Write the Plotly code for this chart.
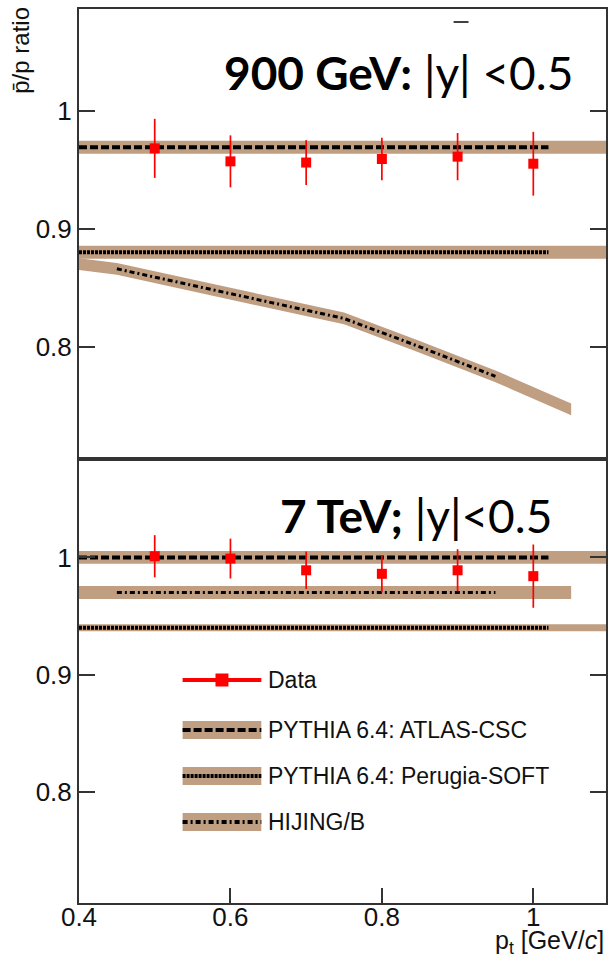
import plotly.graph_objects as go

# ---------------- data ----------------
pt = [0.5, 0.6, 0.7, 0.8, 0.9, 1.0]
ratio_900 = [0.968, 0.957, 0.956, 0.959, 0.961, 0.955]
err_900 = [0.025, 0.022, 0.019, 0.018, 0.020, 0.027]
ratio_7 = [1.001, 0.999, 0.989, 0.986, 0.989, 0.984]
err_7 = [0.018, 0.017, 0.016, 0.016, 0.018, 0.027]

# model bands (center values) and their extents
atlas_900 = 0.969
perugia_900 = 0.880
hij_900_band_x = [0.40, 0.45, 0.60, 0.75, 0.85, 0.95, 1.05]
hij_900_band_y = [0.870, 0.866, 0.845, 0.824, 0.800, 0.775, 0.747]
hij_900_line_x = [0.45, 0.60, 0.75, 0.85, 0.95]
hij_900_line_y = [0.866, 0.845, 0.824, 0.800, 0.775]

atlas_7 = 1.000
hij_7 = 0.970
perugia_7 = 0.940

band_half = 0.0055
band_half_perugia7 = 0.003
band_x_full = [0.40, 1.10]
line_x_pythia = [0.40, 1.02]
band_x_hij = [0.40, 1.05]
line_x_hij = [0.45, 0.95]

xtick_vals = [0.4, 0.6, 0.8, 1.0]
xtick_text = ["0.4", "0.6", "0.8", "1"]
ytick_vals = [0.8, 0.9, 1.0]
ytick_text = ["0.8", "0.9", "1"]

legend_labels = ["Data", "PYTHIA 6.4: ATLAS-CSC", "PYTHIA 6.4: Perugia-SOFT", "HIJING/B"]

# ---------------- style ----------------
TAN = "#BF9E82"
RED = "#FF0000"
DASH_ATLAS = "8px,3px"
DASH_PERUGIA = "3px,1px"
DASH_HIJ = "5px,3px,2px,3px"

fig = go.Figure()


def band(xs, ys, half, xa, ya):
    up = [y + half for y in ys]
    lo = [y - half for y in ys]
    fig.add_trace(go.Scatter(x=list(xs) + list(xs)[::-1], y=up + lo[::-1],
                             fill="toself", fillcolor=TAN, line=dict(width=0),
                             mode="lines", hoverinfo="skip", showlegend=False,
                             xaxis=xa, yaxis=ya))


def mline(xs, ys, dash, xa, ya, w=4):
    fig.add_trace(go.Scatter(x=xs, y=ys, mode="lines",
                             line=dict(color="black", width=w, dash=dash),
                             hoverinfo="skip", showlegend=False, xaxis=xa, yaxis=ya))


# top panel (900 GeV)
band(band_x_full, [atlas_900] * 2, band_half, "x", "y")
band(band_x_full, [perugia_900] * 2, band_half, "x", "y")
band(hij_900_band_x, hij_900_band_y, 0.005, "x", "y")
mline(line_x_pythia, [atlas_900] * 2, DASH_ATLAS, "x", "y")
mline(line_x_pythia, [perugia_900] * 2, DASH_PERUGIA, "x", "y")
mline(hij_900_line_x, hij_900_line_y, DASH_HIJ, "x", "y", w=3)
fig.add_trace(go.Scatter(x=pt, y=ratio_900, mode="markers",
                         marker=dict(symbol="square", size=10, color=RED),
                         error_y=dict(type="data", array=err_900, color=RED, thickness=1.7, width=0),
                         showlegend=False, xaxis="x", yaxis="y"))

# bottom panel (7 TeV)
band(band_x_full, [atlas_7] * 2, band_half, "x2", "y2")
band(band_x_hij, [hij_7] * 2, band_half, "x2", "y2")
band(band_x_full, [perugia_7] * 2, band_half_perugia7, "x2", "y2")
mline(line_x_pythia, [atlas_7] * 2, DASH_ATLAS, "x2", "y2")
mline(line_x_hij, [hij_7] * 2, DASH_HIJ, "x2", "y2", w=3)
mline(line_x_pythia, [perugia_7] * 2, DASH_PERUGIA, "x2", "y2")
fig.add_trace(go.Scatter(x=pt, y=ratio_7, mode="markers",
                         marker=dict(symbol="square", size=10, color=RED),
                         error_y=dict(type="data", array=err_7, color=RED, thickness=1.7, width=0),
                         showlegend=False, xaxis="x2", yaxis="y2"))

# ---------------- layout ----------------
W, H = 610, 959
ML, MR, MT, MB = 79, 2, 9, 56
PW, PH = W - ML - MR, H - MT - MB


def px(xp):
    return (xp - ML) / PW


def py(yp):
    return (H - MB - yp) / PH


split = py(459)
AXCOL = "#333333"
tickfont = dict(family="Liberation Sans, Arial, sans-serif", size=26, color="#111111")

common_y = dict(tickvals=ytick_vals, ticktext=ytick_text, ticks="inside", ticklen=16,
                tickwidth=1.5, tickcolor=AXCOL, showline=True, linecolor=AXCOL, linewidth=2,
                mirror="ticks", showgrid=False, zeroline=False, tickfont=tickfont)

fig.update_layout(
    width=W, height=H,
    margin=dict(l=ML, r=MR, t=MT, b=MB),
    paper_bgcolor="white", plot_bgcolor="white",
    showlegend=False,
    xaxis=dict(domain=[0, 1], range=[0.4, 1.096], anchor="y", showticklabels=False,
               ticks="", showline=True, linecolor=AXCOL, linewidth=2, mirror=True,
               showgrid=False, zeroline=False),
    yaxis=dict(domain=[split, 1], range=[0.705, 1.086], anchor="x", **common_y),
    xaxis2=dict(domain=[0, 1], range=[0.4, 1.096], anchor="y2", tickvals=xtick_vals,
                ticktext=xtick_text, ticks="inside", ticklen=15, tickwidth=1.5,
                tickcolor=AXCOL, showline=True, linecolor=AXCOL, linewidth=2, mirror=True,
                showgrid=False, zeroline=False, tickfont=tickfont, ticklabelstandoff=-10),
    yaxis2=dict(domain=[0, split], range=[0.705, 1.084], anchor="x2", **common_y),
)

annotations = []
shapes = []

# panel labels
annotations.append(dict(text="<b>900 GeV:</b> |y| <0.5", xref="paper", yref="paper",
                        x=px(577), y=py(73), xanchor="right", yanchor="middle",
                        showarrow=False, font=dict(family="Lato, Open Sans, sans-serif", size=46, color="black")))
annotations.append(dict(text="<b>7 TeV;</b> |y|<0.5", xref="paper", yref="paper",
                        x=px(556), y=py(515), xanchor="right", yanchor="middle",
                        showarrow=False, font=dict(family="Lato, Open Sans, sans-serif", size=46, color="black")))
# small overline artifact
shapes.append(dict(type="line", xref="paper", yref="paper", x0=px(455), x1=px(470),
                   y0=py(22), y1=py(22), line=dict(color="black", width=1.5)))

# axis titles
annotations.append(dict(text="p\u0304/p ratio", xref="paper", yref="paper",
                        x=px(20), y=py(5), xanchor="center", yanchor="top", textangle=-90,
                        showarrow=False, font=dict(family="Liberation Sans, Arial, sans-serif", size=24, color="#111111")))
annotations.append(dict(text="p<sub>t</sub> [GeV/<i>c</i>]", xref="paper", yref="paper",
                        x=px(608), y=py(942), xanchor="right", yanchor="middle",
                        showarrow=False, font=dict(family="Liberation Sans, Arial, sans-serif", size=25, color="#111111")))

# legend (drawn manually)
leg_rows = [680, 730, 776, 822]
sx0, sx1 = 183, 262
legend_dashes = [None, DASH_ATLAS, DASH_PERUGIA, DASH_HIJ]
for i, (label, ry) in enumerate(zip(legend_labels, leg_rows)):
    if i == 0:
        shapes.append(dict(type="line", xref="paper", yref="paper", x0=px(sx0), x1=px(sx1),
                           y0=py(ry), y1=py(ry), line=dict(color=RED, width=4)))
        shapes.append(dict(type="rect", xref="paper", yref="paper", x0=px(216), x1=px(229),
                           y0=py(ry + 6.5), y1=py(ry - 6.5), fillcolor=RED, line=dict(width=0)))
    else:
        shapes.append(dict(type="rect", xref="paper", yref="paper", x0=px(sx0), x1=px(sx1),
                           y0=py(ry + 9), y1=py(ry - 9), fillcolor=TAN, line=dict(width=0)))
        shapes.append(dict(type="line", xref="paper", yref="paper", x0=px(sx0), x1=px(sx1),
                           y0=py(ry), y1=py(ry), line=dict(color="black", width=4, dash=legend_dashes[i])))
    annotations.append(dict(text=label, xref="paper", yref="paper", x=px(267), y=py(ry),
                            xanchor="left", yanchor="middle", showarrow=False,
                            font=dict(family="Liberation Sans, Arial, sans-serif", size=23, color="#111111")))

fig.update_layout(annotations=annotations, shapes=shapes)
fig.write_html("out.html")
